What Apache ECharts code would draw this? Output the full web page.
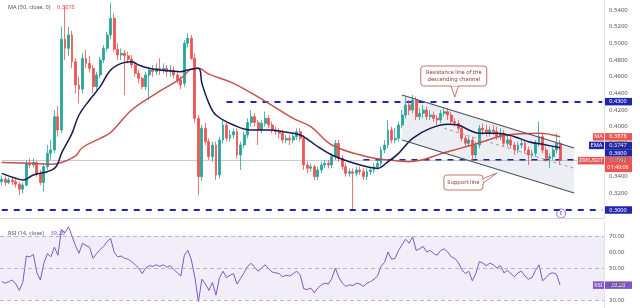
<!DOCTYPE html>
<html><head><meta charset="utf-8">
<script src="https://cdn.jsdelivr.net/npm/echarts@6/dist/echarts.min.js"></script>
<style>html,body{margin:0;padding:0;background:#fff}#c{width:640px;height:308px}</style>
</head><body><div id="c"></div>
<script>
// ---------- data ----------
const slotCount = 172;
const categories = Array.from({length: slotCount}, (_, i) => String(i));
const opens = [
 .334,.337,.333,.336,.334,.331,.325,.330,.356,.354,
 .357,.343,.333,.352,.368,.372,.412,.396,.505,.494,
 .510,.478,.450,.445,.482,.476,.470,.448,.462,.480,
 .494,.510,.530,.493,.486,.488,.485,.481,.474,.464,
 .458,.448,.462,.468,.466,.470,.468,.470,.466,.468,
 .462,.456,.452,.500,.506,.482,.410,.340,.398,.382,
 .364,.378,.342,.384,.402,.386,.390,.394,.366,.378,
 .390,.405,.412,.405,.396,.404,.410,.402,.396,.394,
 .392,.384,.386,.384,.388,.394,.386,.354,.350,.352,
 .340,.348,.354,.356,.354,.364,.380,.362,.352,.344,
 .346,.344,.348,.346,.340,.346,.348,.352,.356,.372,
 .378,.396,.384,.386,.402,.414,.426,.420,.432,.412,
 .416,.420,.412,.414,.410,.408,.416,.418,.414,.406,
 .404,.398,.386,.380,.384,.366,.378,.398,.396,.392,
 .396,.394,.388,.392,.380,.384,.378,.372,.378,.380,
 .372,.366,.368,.380,.388,.372,.362,.364,.372,.380];
const closes = [
 .337,.333,.336,.334,.331,.325,.330,.356,.354,.357,
 .343,.333,.352,.368,.372,.412,.396,.505,.494,.510,
 .478,.450,.445,.482,.476,.470,.448,.462,.480,.494,
 .510,.530,.493,.486,.488,.485,.481,.474,.464,.458,
 .448,.462,.468,.466,.470,.468,.470,.466,.468,.462,
 .456,.450,.500,.506,.482,.410,.340,.398,.382,.364,
 .378,.342,.384,.402,.386,.390,.394,.366,.378,.390,
 .405,.412,.405,.396,.404,.410,.402,.396,.394,.392,
 .384,.386,.384,.388,.394,.386,.354,.350,.352,.340,
 .348,.354,.356,.354,.364,.380,.362,.352,.344,.346,
 .344,.348,.346,.340,.346,.348,.352,.356,.372,.378,
 .396,.384,.386,.402,.414,.426,.420,.432,.412,.416,
 .420,.412,.414,.410,.408,.416,.418,.414,.406,.404,
 .398,.386,.380,.384,.366,.378,.398,.396,.392,.396,
 .394,.388,.392,.380,.384,.378,.372,.378,.380,.372,
 .366,.368,.380,.388,.372,.362,.364,.372,.380,.3592];
const lows = [
 .330,.329,.331,.330,.327,.318,.320,.328,.350,.351,
 .340,.330,.322,.348,.360,.368,.388,.392,.480,.485,
 .470,.440,.428,.440,.470,.465,.440,.444,.458,.476,
 .490,.505,.490,.480,.480,.438,.476,.470,.460,.452,
 .445,.444,.432,.460,.462,.462,.464,.460,.460,.458,
 .452,.445,.448,.495,.480,.405,.318,.335,.378,.360,
 .358,.336,.338,.380,.382,.382,.386,.362,.348,.374,
 .386,.400,.400,.378,.392,.400,.398,.392,.390,.386,
 .380,.380,.378,.380,.384,.382,.348,.344,.346,.336,
 .336,.344,.350,.350,.350,.360,.358,.348,.340,.340,
 .301,.340,.342,.336,.336,.342,.344,.348,.352,.368,
 .374,.380,.380,.382,.398,.410,.414,.416,.408,.408,
 .410,.408,.408,.406,.402,.404,.412,.408,.402,.400,
 .394,.382,.376,.376,.360,.362,.374,.390,.388,.388,
 .390,.384,.384,.376,.376,.374,.366,.368,.374,.368,
 .354,.362,.364,.376,.368,.358,.350,.360,.368,.354];
const highs = [
 .341,.340,.339,.340,.337,.334,.333,.360,.362,.362,
 .359,.348,.356,.378,.384,.420,.425,.520,.545,.520,
 .515,.482,.460,.488,.492,.485,.474,.466,.484,.498,
 .514,.549,.536,.500,.494,.492,.490,.486,.478,.468,
 .460,.466,.472,.474,.476,.482,.476,.474,.474,.472,
 .466,.460,.504,.512,.510,.488,.414,.402,.404,.386,
 .382,.382,.388,.408,.406,.396,.398,.398,.382,.394,
 .410,.420,.416,.408,.408,.418,.414,.406,.400,.398,
 .396,.390,.390,.392,.398,.398,.390,.358,.356,.354,
 .352,.358,.360,.360,.368,.384,.384,.366,.356,.350,
 .350,.352,.352,.350,.350,.352,.356,.360,.376,.384,
 .408,.400,.398,.406,.420,.436,.432,.438,.436,.422,
 .426,.424,.420,.418,.414,.420,.422,.422,.418,.410,
 .408,.400,.390,.388,.388,.382,.402,.404,.402,.400,
 .402,.400,.398,.396,.390,.388,.382,.382,.384,.384,
 .376,.372,.384,.406,.392,.376,.368,.376,.392,.384];
// MA(50) read at sample candles: [candle index, value]
const maPoints = [[0,.357],[8,.356],[14,.355],[17,.357],[21,.365],[23,.375],[28,.386],[31,.393],[37,.420],[44,.440],[51,.458],[54,.469],[56,.470],[59,.463],[66,.452],[76,.428],[83,.410],[88,.400],[94,.378],[104,.364],[110,.360],[116,.358],[127,.370],[134,.378],[144,.390],[153,.392],[159,.3878]];
// EMA read at sample candles
const emaPoints = [[0,.344],[4,.338],[6,.336],[9,.342],[13,.346],[15,.350],[16,.356],[17,.368],[20,.392],[22,.414],[25,.432],[28,.448],[31,.468],[34,.476],[37,.478],[39,.474],[42,.470],[45,.468],[51,.466],[53,.468],[56,.470],[57,.452],[59,.428],[61,.414],[66,.402],[71,.396],[76,.396],[80,.394],[85,.390],[88,.382],[90,.376],[94,.366],[99,.358],[104,.352],[107,.350],[110,.358],[113,.368],[117,.386],[122,.398],[127,.403],[130,.402],[133,.396],[136,.392],[141,.392],[146,.388],[150,.382],[155,.378],[159,.3747]];
const rsiValues = [
 41.5,40.5,41.5,42.5,40,36,41,57.5,57,58.5,
 47,42.5,53,59,57,63,58,74,72,75.8,
 70,64,59.2,65.5,64,63,56,59,61.5,63.5,
 66.5,68.5,60,57,57.5,56,55.5,54,52,50,
 46.5,50,51.5,51,52,51,52,50.5,51.5,49,
 47,45,58,61,55,44,29,43,40,36,
 41,33,44,48,44,45.5,46.5,40,43.5,47,
 51,53,50.5,48,50,52,49.5,47.5,47,46.5,
 44.5,45.5,45,46.5,48,45.5,37,36.5,37.5,34.5,
 37.5,39.5,40.5,40,43.5,50,44,40.5,38.5,39.5,
 39,40.5,40,38.5,40.5,41.5,43,45,51,53.5,
 60,55.5,56,61,64.5,68,65.5,69.5,61,62,
 63.5,60,61,59,58,61,62,60,57,56,
 53.5,49,46.5,48,42,46.5,54,53,51.5,53,
 52,50,51.5,47,48.5,46.5,44.5,47,48,45,
 43,44,48.5,52,42,44,46.5,47,46,39.28];
const priceTicks = [0.32,0.34,0.36,0.38,0.40,0.42,0.44,0.46,0.48,0.50,0.52,0.54];
const rsiTicks = [30,40,50,60,70];
const levels = {resistance: 0.43, support: 0.36, floor: 0.30};
const lastPrice = 0.3592, lastMA = 0.3878, lastEMA = 0.3747, lastRSI = 39.28;
const channelUpper = [[114,.438],[163,.3744]];
const channelLower = [[114,.384],[163,.3204]];
const channelMid = [[126,.398],[163,.350]];
const symbolName = 'ZRXUSDT', countdown = '01:49:06';

// ---------- chart ----------
const UP = '#26a69a', DOWN = '#ef5350', NAVY = '#2127ad', PURPLE = '#7e57c2';
const FONT = '"Noto Sans", "Liberation Sans", sans-serif';
const chart = echarts.init(document.getElementById('c'), null, {renderer: 'canvas'});
const candles = opens.map((o, i) => [o, closes[i], lows[i], highs[i]]);
const dashed = {color: NAVY, width: 2, type: [6, 6]};

const option = {
  animation: false,
  textStyle: {fontFamily: FONT},
  grid: [
    {left: 0, top: 0, width: 604, height: 218},
    {left: 0, top: 222, width: 604, height: 86}
  ],
  xAxis: [
    {type: 'category', data: categories, gridIndex: 0, boundaryGap: true,
     axisLine: {show: true, lineStyle: {color: '#d1d4dc'}}, axisTick: {show: false}, axisLabel: {show: false}, splitLine: {show: false}},
    {type: 'category', data: categories, gridIndex: 1, boundaryGap: true,
     axisLine: {show: false}, axisTick: {show: false}, axisLabel: {show: false}, splitLine: {show: false}}
  ],
  yAxis: [
    {type: 'value', gridIndex: 0, position: 'right', min: 0.2904, max: 0.552, scale: true,
     axisLine: {show: true, lineStyle: {color: '#e0e3eb'}}, axisTick: {show: false}, splitLine: {show: false},
     axisLabel: {customValues: priceTicks, formatter: v => v.toFixed(4), color: '#555', fontSize: 6, margin: 5}},
    {type: 'value', gridIndex: 1, position: 'right', min: 25, max: 78.75,
     axisLine: {show: true, lineStyle: {color: '#e0e3eb'}}, axisTick: {show: false}, splitLine: {show: false},
     axisLabel: {customValues: rsiTicks, formatter: v => v.toFixed(2), color: '#555', fontSize: 6, margin: 5}}
  ],
  series: [
    {type: 'custom', xAxisIndex: 0, yAxisIndex: 0, data: [[0, 0]], silent: true, z: 1,
     renderItem: (params, api) => {
       const pts = channelUpper.concat(channelLower.slice().reverse()).map(p => api.coord(p));
       return {type: 'polygon', shape: {points: pts}, style: {fill: 'rgba(200,206,222,0.35)'}};
     }},
    {type: 'candlestick', xAxisIndex: 0, yAxisIndex: 0, data: candles, barWidth: '68%', z: 3,
     itemStyle: {color: UP, color0: DOWN, borderColor: UP, borderColor0: DOWN, borderWidth: 0.8},
     markLine: {silent: true, symbol: ['none', 'none'], label: {show: false}, z: 2,
       data: [
         [{coord: [64, levels.resistance], lineStyle: dashed}, {coord: [171, levels.resistance]}],
         [{coord: [0, levels.floor], lineStyle: dashed}, {coord: [171, levels.floor]}],
         [{coord: [103, levels.support], lineStyle: dashed}, {coord: [163, levels.support]}],
         [{coord: [0, lastPrice], lineStyle: {color: '#a3a6af', width: 0.6, type: 'solid'}}, {coord: [171, lastPrice]}]
       ]}},
    {type: 'line', xAxisIndex: 0, yAxisIndex: 0, data: maPoints, smooth: 0.4, showSymbol: false, z: 4,
     lineStyle: {color: '#c9504e', width: 1.5}},
    {type: 'line', xAxisIndex: 0, yAxisIndex: 0, data: emaPoints, smooth: 0.4, showSymbol: false, z: 4,
     lineStyle: {color: '#141a52', width: 1.5}},
    {type: 'line', xAxisIndex: 0, yAxisIndex: 0, data: channelUpper, showSymbol: false, z: 5,
     lineStyle: {color: '#505360', width: 1.3}},
    {type: 'line', xAxisIndex: 0, yAxisIndex: 0, data: channelLower, showSymbol: false, z: 5,
     lineStyle: {color: '#505360', width: 1.3}},
    {type: 'line', xAxisIndex: 0, yAxisIndex: 0, data: channelMid, showSymbol: false, z: 5,
     lineStyle: {color: '#9a9da6', width: 1, type: [3, 3]}},
    {type: 'line', xAxisIndex: 1, yAxisIndex: 1, data: rsiValues, showSymbol: false, z: 4,
     lineStyle: {color: PURPLE, width: 1},
     markArea: {silent: true, itemStyle: {color: 'rgba(126,87,194,0.1)'}, data: [[{yAxis: 30}, {yAxis: 70}]]},
     markLine: {silent: true, symbol: ['none', 'none'], label: {show: false},
       lineStyle: {color: '#a6a8b0', width: 0.8, type: [4, 3]},
       data: [{yAxis: 70}, {yAxis: 50}, {yAxis: 30}]}}
  ]
};
chart.setOption(option);

// ---------- badges and annotations (positions from the chart's own scales) ----------
const yP = v => chart.convertToPixel({yAxisIndex: 0}, v);
const yR = v => chart.convertToPixel({yAxisIndex: 1}, v);
const pt = (i, v) => chart.convertToPixel({gridIndex: 0}, [i, v]);
const BH = 7.5;
function badge(x, yc, w, text, bg, h) {
  h = h || BH;
  return {type: 'group', z: 100, children: [
    {type: 'rect', shape: {x: x, y: yc - h / 2, width: w, height: h}, style: {fill: bg}},
    {type: 'text', x: x + w / 2, y: yc, style: {text: text, fill: '#fff', font: '5.6px ' + FONT, align: 'center', verticalAlign: 'middle'}}
  ]};
}
const AX = 604, VW = 28;
const priceY = yP(lastPrice);
const priceTop = priceY - 4;
const supC = Math.min(yP(levels.support), priceTop - BH / 2);
const emaC = Math.min(yP(lastEMA), supC - BH);
const maC = Math.min(yP(lastMA), emaC - BH);
const els = [];
els.push(badge(AX, yP(levels.resistance), VW, '0.4300', NAVY));
els.push(badge(AX, yP(levels.floor), VW, '0.3000', NAVY));
els.push(badge(AX - 11, maC, 11, 'MA', DOWN));
els.push(badge(AX, maC, VW, lastMA.toFixed(4), DOWN));
els.push(badge(AX - 15, emaC, 15, 'EMA', NAVY));
els.push(badge(AX, emaC, VW, lastEMA.toFixed(4), NAVY));
els.push(badge(AX, supC, VW, levels.support.toFixed(4), NAVY));
els.push(badge(AX - 26, priceY, 26, symbolName, DOWN));
els.push({type: 'group', z: 100, children: [
  {type: 'rect', shape: {x: AX, y: priceTop, width: VW, height: 15.5}, style: {fill: DOWN}},
  {type: 'text', x: AX + VW / 2, y: priceY, style: {text: lastPrice.toFixed(4), fill: '#fff', font: '5.6px ' + FONT, align: 'center', verticalAlign: 'middle'}},
  {type: 'text', x: AX + VW / 2, y: priceY + 6.5, style: {text: countdown, fill: '#fff', font: '5.4px ' + FONT, align: 'center', verticalAlign: 'middle'}}
]});
const rsiY = yR(lastRSI);
els.push(badge(AX - 11, rsiY, 11, 'RSI', PURPLE));
els.push(badge(AX, rsiY, VW, lastRSI.toFixed(2), PURPLE));

// headers
els.push({type: 'text', left: 8, top: 1.5, z: 100, style: {text: '{a|MA (50, close, 0)}  {b|' + lastMA.toFixed(4) + '}',
  rich: {a: {fill: '#555', font: '5.6px ' + FONT}, b: {fill: DOWN, font: '5.6px ' + FONT}}}});
els.push({type: 'text', left: 8, top: 227, z: 100, style: {text: '{a|RSI (14, close)}  {b|' + lastRSI.toFixed(2) + '}',
  rich: {a: {fill: '#555', font: '5.6px ' + FONT}, b: {fill: PURPLE, font: '5.6px ' + FONT}}}});

// callouts
const CAL = '#b5524c';
const tipR = pt(129, 0.4356);
const rx = tipR[0] - 34, ry = tipR[1] - 31, rw = 66, rh = 20;
els.push({type: 'group', z: 110, children: [
  {type: 'polygon', shape: {points: [[tipR[0] - 4, ry + rh - 1], [tipR[0] + 4, ry + rh - 1], [tipR[0], tipR[1]]]}, style: {fill: '#fff', stroke: CAL, lineWidth: 0.8}},
  {type: 'rect', shape: {x: rx, y: ry, width: rw, height: rh, r: 3}, style: {fill: '#fff', stroke: CAL, lineWidth: 0.8}},
  {type: 'rect', shape: {x: tipR[0] - 3.3, y: ry + rh - 1.5, width: 6.6, height: 1.6}, style: {fill: '#fff'}},
  {type: 'text', x: rx + rw / 2, y: ry + rh / 2, style: {text: 'Resistance line of the\ndescending channel', fill: '#8e3b36', font: '5.6px ' + FONT, align: 'center', verticalAlign: 'middle', lineHeight: 7.5}}
]});
const tipS = pt(141, 0.3444);
const sx = tipS[0] - 53, sy = tipS[1] + 2, sw = 39, sh = 15;
els.push({type: 'group', z: 110, children: [
  {type: 'polygon', shape: {points: [[sx + sw - 1, sy + 4], [sx + sw - 1, sy + 9], [tipS[0], tipS[1]]]}, style: {fill: '#fff', stroke: CAL, lineWidth: 0.8}},
  {type: 'rect', shape: {x: sx, y: sy, width: sw, height: sh, r: 3}, style: {fill: '#fff', stroke: CAL, lineWidth: 0.8}},
  {type: 'rect', shape: {x: sx + sw - 1.5, y: sy + 4.5, width: 1.6, height: 4}, style: {fill: '#fff'}},
  {type: 'text', x: sx + sw / 2, y: sy + sh / 2, style: {text: 'Support line', fill: '#8e3b36', font: '5.6px ' + FONT, align: 'center', verticalAlign: 'middle'}}
]});
// event marker
const ev = pt(159, levels.floor);
els.push({type: 'group', z: 110, children: [
  {type: 'circle', shape: {cx: ev[0] + 1, cy: ev[1] + 3.5, r: 4.5}, style: {fill: '#fff', stroke: '#9c6ad0', lineWidth: 1}},
  {type: 'text', x: ev[0] + 1, y: ev[1] + 3.5, style: {text: 'E', fill: '#9c6ad0', font: 'bold 5px ' + FONT, align: 'center', verticalAlign: 'middle'}}
]});
chart.setOption({graphic: {elements: els}});
</script>
</body></html>
